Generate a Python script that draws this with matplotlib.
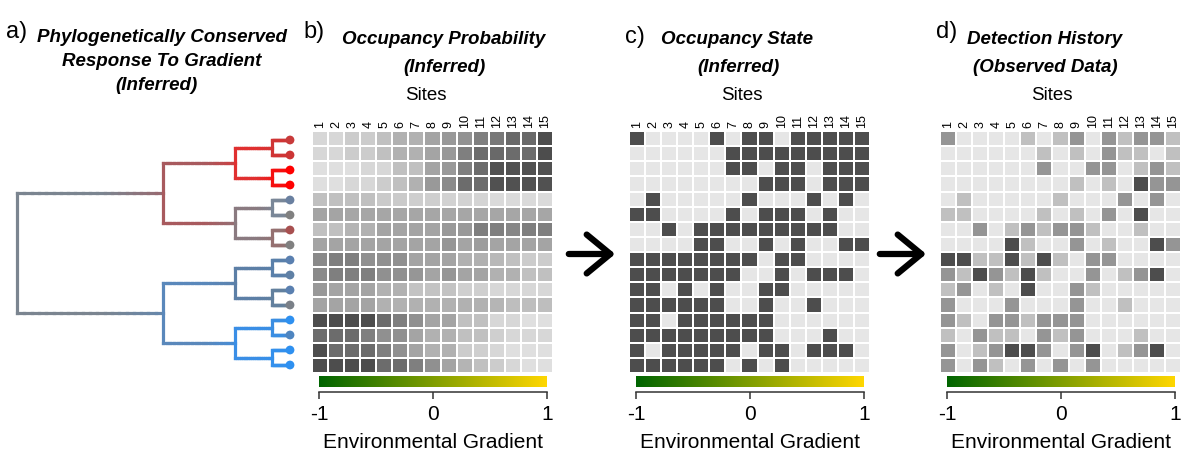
import numpy as np
import matplotlib
matplotlib.use("Agg")
import matplotlib.pyplot as plt
from matplotlib.colors import LinearSegmentedColormap, ListedColormap, to_rgb
from matplotlib.collections import LineCollection
from matplotlib.patches import FancyArrowPatch

plt.rcParams['font.family'] = ['Liberation Sans', 'DejaVu Sans']

W, H = 1181, 452

sites = [str(i) for i in range(1, 16)]
gradient_ticks = [-1, 0, 1]
gradient_labels = ['-1', '0', '1']

# b) occupancy probability (16 species x 15 sites)
occ_prob = np.array([
    [0.10, 0.10, 0.17, 0.17, 0.25, 0.35, 0.35, 0.43, 0.50, 0.55, 0.67, 0.72, 0.82, 0.82, 1.00],
    [0.10, 0.10, 0.17, 0.17, 0.25, 0.35, 0.35, 0.43, 0.50, 0.67, 0.80, 0.82, 0.80, 0.80, 1.00],
    [0.05, 0.05, 0.05, 0.10, 0.10, 0.25, 0.25, 0.43, 0.50, 0.67, 0.80, 0.97, 0.97, 0.97, 0.97],
    [0.05, 0.05, 0.10, 0.10, 0.17, 0.25, 0.35, 0.50, 0.60, 0.80, 0.80, 0.97, 0.97, 0.97, 0.97],
    [0.25, 0.25, 0.25, 0.25, 0.18, 0.18, 0.16, 0.16, 0.13, 0.13, 0.12, 0.08, 0.08, 0.08, 0.08],
    [0.43, 0.43, 0.42, 0.42, 0.42, 0.42, 0.42, 0.42, 0.42, 0.42, 0.42, 0.42, 0.42, 0.42, 0.42],
    [0.25, 0.25, 0.33, 0.35, 0.43, 0.43, 0.43, 0.43, 0.50, 0.50, 0.67, 0.67, 0.62, 0.67, 0.67],
    [0.43, 0.43, 0.43, 0.43, 0.43, 0.43, 0.43, 0.43, 0.52, 0.43, 0.48, 0.43, 0.43, 0.43, 0.43],
    [0.60, 0.67, 0.67, 0.56, 0.56, 0.56, 0.43, 0.43, 0.43, 0.35, 0.35, 0.30, 0.25, 0.17, 0.17],
    [0.60, 0.67, 0.67, 0.67, 0.56, 0.56, 0.52, 0.43, 0.52, 0.43, 0.43, 0.35, 0.35, 0.25, 0.25],
    [0.50, 0.43, 0.43, 0.43, 0.35, 0.35, 0.23, 0.23, 0.23, 0.15, 0.15, 0.10, 0.10, 0.10, 0.10],
    [0.43, 0.43, 0.43, 0.43, 0.35, 0.35, 0.35, 0.35, 0.35, 0.35, 0.35, 0.32, 0.26, 0.26, 0.26],
    [1.00, 1.00, 1.00, 1.00, 0.80, 0.67, 0.56, 0.43, 0.43, 0.25, 0.25, 0.10, 0.10, 0.05, 0.05],
    [0.80, 0.80, 0.80, 0.67, 0.56, 0.56, 0.43, 0.35, 0.35, 0.25, 0.25, 0.15, 0.10, 0.10, 0.10],
    [1.00, 0.80, 0.80, 0.80, 0.67, 0.56, 0.43, 0.35, 0.35, 0.17, 0.15, 0.10, 0.05, 0.05, 0.05],
    [1.00, 1.00, 1.00, 1.00, 0.80, 0.80, 0.67, 0.56, 0.43, 0.33, 0.25, 0.17, 0.10, 0.05, 0.05],
])

# c) occupancy state (1 = occupied)
occ_state = np.array([
    [1, 0, 0, 0, 0, 1, 0, 1, 1, 0, 1, 1, 1, 1, 1],
    [0, 0, 0, 0, 0, 0, 1, 1, 1, 1, 1, 1, 1, 1, 1],
    [0, 0, 0, 0, 0, 0, 1, 1, 0, 1, 1, 0, 1, 1, 1],
    [0, 0, 0, 0, 0, 0, 0, 0, 1, 1, 1, 0, 1, 1, 1],
    [0, 1, 0, 0, 0, 0, 0, 1, 0, 0, 0, 1, 0, 1, 0],
    [1, 1, 0, 0, 0, 0, 1, 0, 1, 1, 1, 0, 1, 0, 0],
    [0, 0, 1, 0, 1, 1, 1, 1, 1, 1, 1, 1, 1, 0, 0],
    [0, 0, 0, 0, 1, 1, 0, 0, 1, 0, 1, 0, 0, 1, 1],
    [1, 1, 1, 1, 1, 1, 1, 1, 0, 1, 1, 0, 0, 0, 0],
    [1, 1, 1, 1, 1, 1, 1, 0, 0, 1, 0, 1, 1, 1, 0],
    [1, 1, 0, 1, 0, 1, 0, 0, 1, 1, 0, 0, 0, 0, 0],
    [1, 1, 1, 1, 1, 1, 0, 0, 1, 0, 0, 1, 0, 0, 0],
    [1, 1, 0, 1, 1, 1, 1, 1, 1, 0, 0, 0, 0, 0, 0],
    [1, 1, 1, 1, 1, 1, 1, 1, 1, 0, 0, 0, 1, 0, 0],
    [1, 0, 1, 1, 1, 1, 1, 0, 1, 1, 0, 1, 1, 1, 0],
    [1, 1, 1, 1, 1, 1, 0, 1, 0, 1, 0, 0, 0, 0, 0],
])

# d) detection history (number of detections, 0-3)
detections = np.array([
    [2, 0, 0, 0, 0, 1, 0, 1, 2, 0, 2, 1, 2, 2, 1],
    [0, 0, 0, 0, 0, 0, 1, 0, 1, 0, 2, 1, 1, 0, 1],
    [0, 0, 0, 0, 0, 0, 2, 0, 0, 2, 2, 0, 1, 2, 1],
    [0, 0, 0, 0, 0, 0, 0, 0, 1, 0, 1, 0, 3, 2, 2],
    [0, 1, 0, 0, 0, 0, 0, 1, 0, 0, 0, 2, 0, 2, 0],
    [1, 1, 0, 0, 0, 0, 1, 0, 1, 0, 2, 0, 3, 0, 0],
    [0, 0, 2, 0, 1, 2, 1, 2, 2, 1, 0, 0, 1, 0, 0],
    [0, 0, 0, 0, 3, 1, 0, 0, 2, 0, 1, 0, 0, 3, 2],
    [3, 3, 1, 1, 3, 1, 3, 1, 0, 2, 2, 0, 0, 0, 0],
    [2, 1, 3, 2, 1, 3, 1, 0, 0, 2, 0, 1, 2, 3, 0],
    [1, 2, 0, 1, 0, 3, 0, 0, 2, 1, 0, 0, 0, 0, 0],
    [2, 0, 0, 0, 2, 0, 0, 0, 2, 0, 0, 1, 0, 0, 0],
    [2, 1, 0, 2, 2, 1, 2, 2, 2, 0, 0, 0, 0, 0, 0],
    [1, 0, 2, 1, 1, 0, 2, 1, 2, 0, 0, 0, 1, 0, 0],
    [2, 0, 1, 2, 3, 3, 2, 0, 2, 3, 0, 1, 2, 3, 0],
    [2, 0, 2, 1, 0, 2, 0, 2, 0, 2, 0, 0, 0, 0, 0],
])

# a) tree: balanced tree, node depth by level, colour per node
node_depth = [0.0, 0.535, 0.8, 0.935, 1.0]
root_color = ['#7b8590']
l1_colors = ['#a85a5e', '#5a88bb']
l2_colors = ['#e03030', '#8a7a80', '#5c7fa6', '#3a8ee6']
l3_colors = ['#d03535', '#f51010', '#7a8798', '#957070',
             '#5a80aa', '#62809e', '#3b8ee2', '#3490ec']
tip_colors = ['#c83a3a', '#cc3535', '#ff0000', '#ff0000',
              '#6a80a0', '#808080', '#a85050', '#808080',
              '#5a80b0', '#5f80a5', '#5a80b0', '#7a8088',
              '#2e90f0', '#4e85c0', '#2e90f0', '#2e90f0']

grey_cmap = LinearSegmentedColormap.from_list('occ', ['#e6e6e6', '#4d4d4d'])
det_cmap = ListedColormap(['#e6e6e6', '#c0c0c0', '#959595', '#4d4d4d'])
env_cmap = LinearSegmentedColormap.from_list('env', ['#006400', '#ffd700'])


def px_axes(fig, x0, y0, x1, y1):
    return fig.add_axes([x0 / W, 1 - y1 / H, (x1 - x0) / W, (y1 - y0) / H])


def draw_tree(ax, lw=2.3):
    levels = [root_color, l1_colors, l2_colors, l3_colors, tip_colors]
    ys = [np.arange(16, dtype=float)]
    for _ in range(4):
        c = ys[0]
        ys.insert(0, (c[0::2] + c[1::2]) / 2)
    for k in range(4):
        for j, col in enumerate(levels[k]):
            kids = (2 * j, 2 * j + 1)
            for ci in kids:
                # branch mostly keeps the parent colour, shading into the child's at the end
                xs = np.linspace(node_depth[k], node_depth[k + 1], 21)
                yy = ys[k + 1][ci]
                segs = [[(xs[i], yy), (xs[i + 1], yy)] for i in range(20)]
                t = np.clip((np.linspace(0, 1, 20) - 0.6) / 0.4, 0, 1)[:, None] * 0.6
                cols = np.array(to_rgb(col)) * (1 - t) + np.array(to_rgb(levels[k + 1][ci])) * t
                lc = LineCollection(segs, colors=cols, lw=lw, capstyle='projecting')
                lc.set_clip_on(False)
                ax.add_collection(lc)
            ax.plot([node_depth[k]] * 2, [ys[k + 1][kids[0]], ys[k + 1][kids[1]]],
                    color=col, lw=lw, solid_capstyle='projecting', clip_on=False)
    ax.scatter([node_depth[4]] * 16, ys[4], c=tip_colors, s=40, zorder=3,
               linewidths=0, clip_on=False)
    ax.set_xlim(0, 1)
    ax.set_ylim(15, 0)
    ax.axis('off')


def draw_grid(fig, x0, data, cmap, vmin, vmax):
    ax = px_axes(fig, x0, 132, x0 + 241, 374)
    ax.pcolormesh(data, cmap=cmap, vmin=vmin, vmax=vmax, edgecolors='white', linewidth=1.3)
    ax.set_xlim(0, 15)
    ax.set_ylim(16, 0)
    ax.set_xticks(np.arange(15) + 0.5)
    ax.set_xticklabels(sites, rotation=90, fontsize=9)
    ax.xaxis.set_ticks_position('top')
    ax.tick_params(axis='x', length=0, pad=3)
    ax.set_yticks([])
    for s in ax.spines.values():
        s.set_visible(False)

    # environmental gradient bar + scale
    cb = px_axes(fig, x0 + 7, 377, x0 + 235, 388)
    cb.imshow(np.linspace(-1, 1, 256)[None, :], cmap=env_cmap, aspect='auto',
              extent=[-1, 1, 0, 1])
    cb.axis('off')
    sc = px_axes(fig, x0 + 7, 393, x0 + 235, 400)
    sc.set_xlim(-1, 1)
    for name, s in sc.spines.items():
        s.set_visible(name == 'bottom')
    sc.spines['bottom'].set_position(('axes', 1.0))
    sc.spines['bottom'].set_linewidth(1.1)
    sc.spines['bottom'].set_color('#333333')
    sc.set_yticks([])
    sc.set_xticks(gradient_ticks)
    sc.set_xticklabels(gradient_labels)
    sc.tick_params(axis='x', direction='out', length=5, width=1.1, color='#333333',
                   labelsize=15, pad=4)
    sc.set_xlabel('Environmental Gradient', fontsize=15, labelpad=6)
    return ax


fig = plt.figure(figsize=(W / 100, H / 100), dpi=100)

tree_ax = px_axes(fig, 17, 141, 290, 366)
draw_tree(tree_ax)

draw_grid(fig, 312, occ_prob, grey_cmap, 0, 1)
draw_grid(fig, 629, occ_state, grey_cmap, 0, 1)
draw_grid(fig, 940, detections, det_cmap, -0.5, 3.5)


def ftext(x, y, s, **kw):
    fig.text(x / W, 1 - y / H, s, **kw)


title_kw = dict(fontsize=13.5, fontweight='bold', fontstyle='italic', ha='center', va='center')
lab_kw = dict(fontsize=17, ha='left', va='center')

ftext(6, 32, 'a)', **lab_kw)
ftext(162, 38, 'Phylogenetically Conserved', **title_kw)
ftext(162, 61, 'Response To Gradient', **title_kw)
ftext(156, 85, '(Inferred)', **title_kw)

ftext(303, 32, 'b)', **lab_kw)
ftext(444, 40, 'Occupancy Probability', **title_kw)
ftext(444, 68, '(Inferred)', **title_kw)
ftext(426, 96, 'Sites', fontsize=13.5, ha='center', va='center')

ftext(625, 37, 'c)', **lab_kw)
ftext(737, 40, 'Occupancy State', **title_kw)
ftext(738, 68, '(Inferred)', **title_kw)
ftext(742, 96, 'Sites', fontsize=13.5, ha='center', va='center')

ftext(936, 32, 'd)', **lab_kw)
ftext(1045, 40, 'Detection History', **title_kw)
ftext(1045, 68, '(Observed Data)', **title_kw)
ftext(1052, 96, 'Sites', fontsize=13.5, ha='center', va='center')

for xa, xb in [(566, 618), (877, 929)]:
    arr = FancyArrowPatch((xa / W, 1 - 255 / H), (xb / W, 1 - 255 / H),
                          transform=fig.transFigure,
                          arrowstyle='->,head_length=0.85,head_width=0.7',
                          mutation_scale=20, lw=4.5, color='black')
    fig.patches.append(arr)

fig.savefig('out.png', dpi=100)
